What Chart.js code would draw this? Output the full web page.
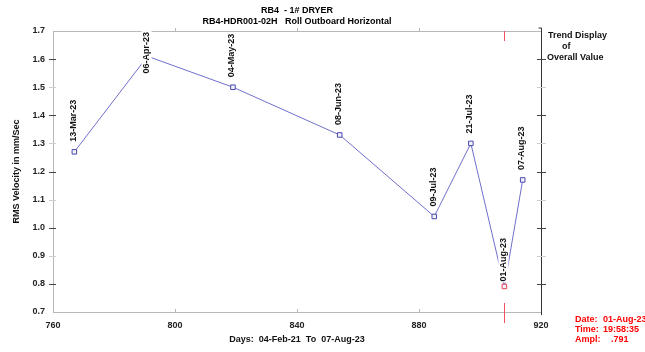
<!DOCTYPE html>
<html>
<head>
<meta charset="utf-8">
<script src="https://cdn.jsdelivr.net/npm/chart.js@4.4.0/dist/chart.umd.min.js"></script>
<style>
  html, body { margin: 0; padding: 0; background: #fff; }
  #wrap { width: 645px; height: 352px; }
</style>
</head>
<body>
<div id="wrap"><canvas id="trend" width="645" height="352"></canvas></div>
<script>
// days counted from 04-Feb-21, overall RMS velocity per reading
const days = [767, 791, 819, 854, 885, 897, 908, 914];
const rmsValues = [1.27, 1.61, 1.50, 1.33, 1.04, 1.30, 0.791, 1.17];
const dateLabels = ['13-Mar-23', '06-Apr-23', '04-May-23', '08-Jun-23', '09-Jul-23', '21-Jul-23', '01-Aug-23', '07-Aug-23'];

const xTicks = [760, 800, 840, 880, 920];
const yTicks = [0.7, 0.8, 0.9, 1.0, 1.1, 1.2, 1.3, 1.4, 1.5, 1.6, 1.7];

const titleLines = ['RB4  - 1# DRYER', 'RB4-HDR001-02H   Roll Outboard Horizontal'];
const sideNote = ['Trend Display', 'of', 'Overall Value'];
const cursorIndex = 6;
const cursorFields = ['Date:', 'Time:', 'Ampl:'];
const cursorValues = ['01-Aug-23', '19:58:35', '.791'];

const FONT = 'Arial, "Liberation Sans", sans-serif';
const boldFont = { family: FONT, size: 9, weight: 'bold' };

const decor = {
  id: 'decor',
  afterDatasetsDraw(chart) {
    const { ctx, chartArea: a, scales: { x, y } } = chart;
    ctx.save();
    ctx.lineWidth = 1;

    // top frame + small ticks on top and bottom
    ctx.strokeStyle = '#b8b8b8';
    ctx.beginPath();
    ctx.moveTo(a.left, a.top + 0.5);
    ctx.lineTo(a.right, a.top + 0.5);
    xTicks.slice(1, -1).forEach(v => {
      const px = Math.round(x.getPixelForValue(v)) + 0.5;
      ctx.moveTo(px, a.top - 3);
      ctx.lineTo(px, a.top);
      ctx.moveTo(px, a.bottom - 3);
      ctx.lineTo(px, a.bottom);
    });
    ctx.stroke();

    // right axis
    const rx = Math.round(a.right) + 0.5;
    ctx.strokeStyle = '#333';
    ctx.beginPath();
    ctx.moveTo(rx, a.top - 3);
    ctx.lineTo(rx, a.bottom + 3);
    ctx.moveTo(rx - 3, a.top - 3);
    ctx.lineTo(rx, a.top - 3);
    ctx.stroke();

    // y tick marks, major every 0.2
    yTicks.slice(1, -1).forEach(v => {
      const py = Math.round(y.getPixelForValue(v)) + 0.5;
      const major = Math.round(v * 10) % 2 === 0;
      ctx.strokeStyle = major ? '#444' : '#cfcfcf';
      ctx.beginPath();
      ctx.moveTo(a.left - 4, py);
      ctx.lineTo(a.left + 3, py);
      ctx.moveTo(a.right - 4, py);
      ctx.lineTo(a.right + 5, py);
      ctx.stroke();
    });

    // cursor marks
    const cx = Math.round(x.getPixelForValue(days[cursorIndex])) + 0.5;
    ctx.strokeStyle = '#f05060';
    ctx.beginPath();
    ctx.moveTo(cx, a.top);
    ctx.lineTo(cx, a.top + 10);
    ctx.moveTo(cx, a.bottom - 9);
    ctx.lineTo(cx, a.bottom + 11);
    ctx.stroke();

    // date labels over the points
    ctx.font = 'bold 9px ' + FONT;
    ctx.textBaseline = 'middle';
    ctx.textAlign = 'left';
    const meta = chart.getDatasetMeta(0);
    meta.data.forEach((pt, i) => {
      const txt = dateLabels[i];
      const w = ctx.measureText(txt).width;
      const gap = i === cursorIndex ? 5 : 10;
      let start = pt.y - gap;
      if (start - w < a.top + 1) start = a.top + 1 + w;
      ctx.save();
      ctx.translate(pt.x - 1, start);
      ctx.rotate(-Math.PI / 2);
      ctx.fillStyle = '#fff';
      ctx.fillRect(-1, -5, w + 2, 10);
      ctx.fillStyle = '#111';
      ctx.fillText(txt, 0, 0);
      ctx.restore();
    });

    // side note
    ctx.fillStyle = '#111';
    ctx.fillText(sideNote[0], a.right + 7, 36);
    ctx.fillText(sideNote[1], a.right + 21, 47);
    ctx.fillText(sideNote[2], a.right + 6, 58);

    // cursor readout
    ctx.fillStyle = '#ff0000';
    cursorFields.forEach((f, i) => {
      const ty = 320 + i * 9.7;
      ctx.fillText(f, 575, ty);
      ctx.fillText(cursorValues[i], i === 2 ? 611 : 603, ty);
    });
    ctx.restore();
  }
};

new Chart(document.getElementById('trend'), {
  type: 'line',
  data: {
    datasets: [{
      data: days.map((d, i) => ({ x: d, y: rmsValues[i] })),
      borderColor: '#6f6fcc',
      borderWidth: 1,
      tension: 0,
      pointStyle: 'rect',
      pointRadius: 3.2,
      pointBorderWidth: 1,
      pointBackgroundColor: '#f2f2fb',
      pointBorderColor: ctx => ctx.dataIndex === cursorIndex ? '#e8405a' : '#4848b0'
    }]
  },
  options: {
    responsive: false,
    devicePixelRatio: 1,
    animation: false,
    layout: { padding: { right: 104, left: 0, top: 0, bottom: 0 } },
    plugins: {
      legend: { display: false },
      tooltip: { enabled: false },
      title: {
        display: true,
        fullSize: false,
        text: titleLines,
        color: '#000',
        font: { family: FONT, size: 9, weight: 'bold', lineHeight: '11px' },
        padding: { top: 5, bottom: 4 }
      }
    },
    scales: {
      x: {
        type: 'linear',
        min: 760,
        max: 920,
        afterBuildTicks: s => { s.ticks = xTicks.map(v => ({ value: v })); },
        afterFit: s => { s.height = 40; },
        grid: { display: false, drawTicks: false },
        border: { display: true, color: '#b8b8b8' },
        ticks: { color: '#222', font: boldFont, padding: 8, maxRotation: 0 },
        title: {
          display: true,
          text: 'Days:  04-Feb-21  To  07-Aug-23',
          color: '#111',
          font: boldFont,
          padding: { top: 0, bottom: 7 }
        }
      },
      y: {
        type: 'linear',
        min: 0.7,
        max: 1.7,
        afterBuildTicks: s => { s.ticks = yTicks.map(v => ({ value: v })); },
        afterFit: s => { s.width = 53; },
        grid: { display: false, drawTicks: false },
        border: { display: true, color: '#b8b8b8' },
        ticks: { color: '#222', font: boldFont, padding: 8, callback: v => v.toFixed(1) },
        title: {
          display: true,
          text: 'RMS Velocity in mm/Sec',
          color: '#111',
          font: boldFont,
          padding: { top: 11, bottom: 0 }
        }
      }
    }
  },
  plugins: [decor]
});
</script>
</body>
</html>
